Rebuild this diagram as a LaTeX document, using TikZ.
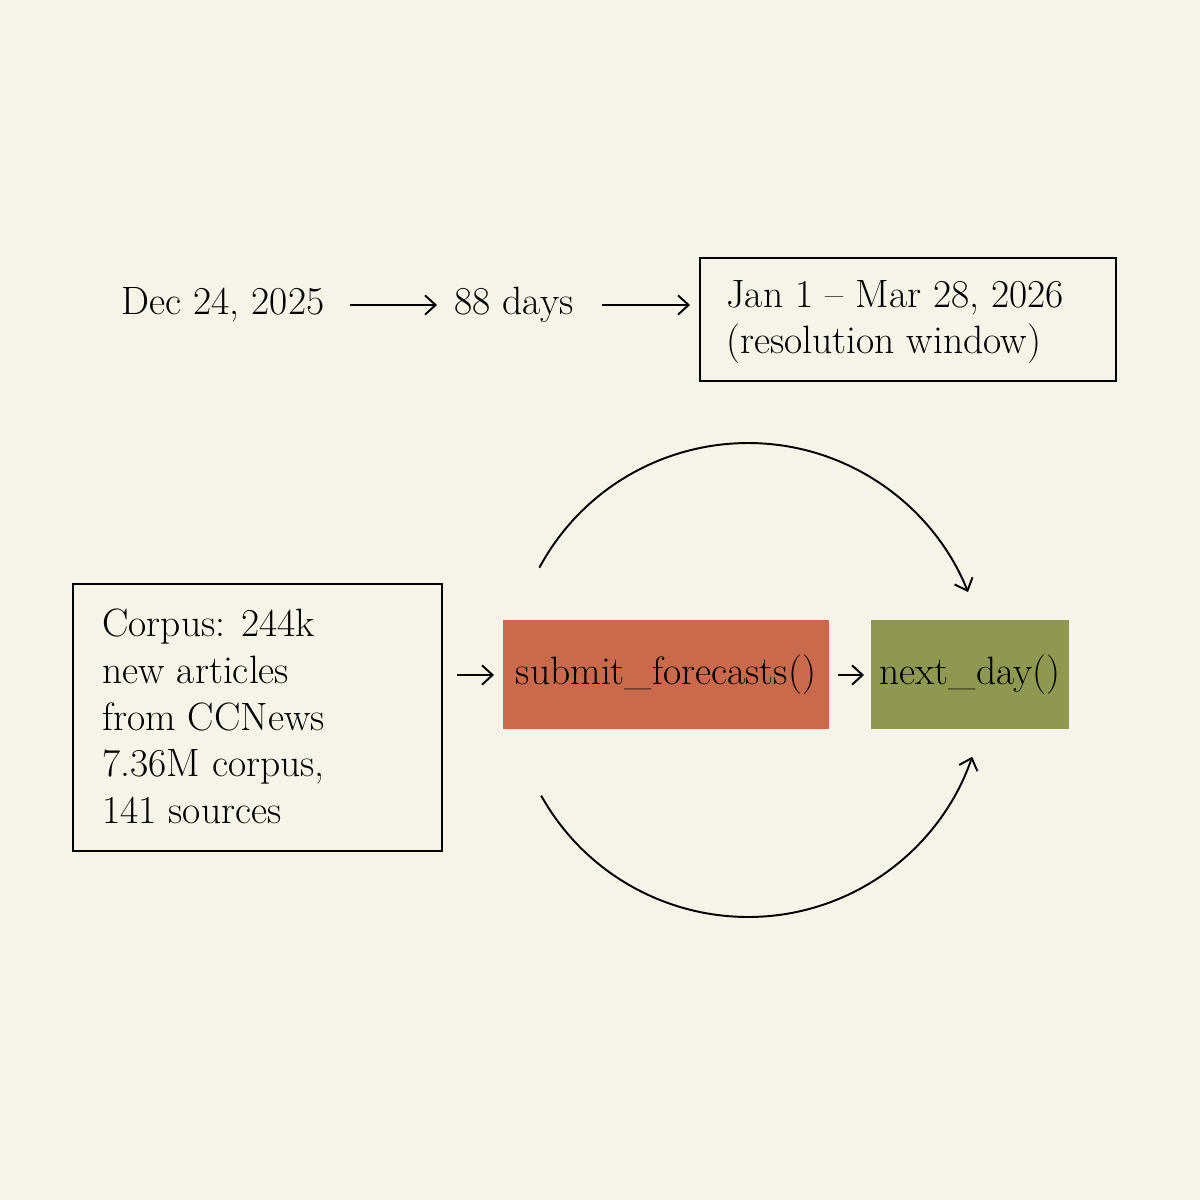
\documentclass[tikz,border=0pt]{standalone}
\usepackage{amsmath, amssymb, tikz}
\usetikzlibrary{positioning, arrows.meta}
\definecolor{paper}{HTML}{F6F3E8}
\definecolor{forecastred}{HTML}{C96A4C}
\definecolor{dayolive}{HTML}{8F9850}
\tikzset{
  txt/.style={font=\fontsize{22.5}{26.5}\selectfont, inner sep=0pt},
  frame/.style={draw=black, line width=0.9pt},
  flow/.style={-{Straight Barb[length=6pt,width=11pt]}, line width=1.1pt}
}
\begin{document}
\begin{tikzpicture}[x=0.02cm, y=-0.02cm]
        \fill[paper] (0,0) rectangle (1200,1200);
        \useasboundingbox (0,0) rectangle (1200,1200);
        % timeline
        \node[txt] (start) at (223,305) {Dec 24, 2025};
        \node[txt] (span) at (514,305) {88 days};
        \draw[frame] (700,258) rectangle (1116,381);
        \node[txt, align=left, anchor=west] (window) at (726,322) {Jan 1 -- Mar 28, 2026\\(resolution window)};
        \coordinate (startout) at (350,305);
        \coordinate (spanin) at (437,305);
        \coordinate (spanout) at (602,305);
        \coordinate (winin) at (690,305);
        \draw[flow] (startout) -- (spanin);
        \draw[flow] (spanout) -- (winin);
        % corpus
        \draw[frame] (73,584) rectangle (442,851);
        \node[txt, align=left, anchor=north west] (corpus) at (102,609)
          {Corpus: 244k\\new articles\\from CCNews\\7.36M corpus,\\141 sources};
        \coordinate (corpusout) at (457,675);
        % loop
        \fill[forecastred] (503,620) rectangle (829,729);
        \fill[dayolive] (871,620) rectangle (1069,729);
        \node[txt] (submit) at (666,675) {submit\_forecasts()};
        \node[txt] (next) at (970,675) {next\_day()};
        \draw[flow] (corpusout) -- (494,675);
        \draw[flow] (838,675) -- (864,675);
        \coordinate (hub) at (748,680);
        \draw[flow] ([shift={(151.7:4.74cm)}]hub) arc[start angle=151.7, end angle=21.8, radius=4.74cm];
        \draw[flow] ([shift={(209.2:4.74cm)}]hub) arc[start angle=209.2, end angle=341.1, radius=4.74cm];
\end{tikzpicture}
\end{document}
